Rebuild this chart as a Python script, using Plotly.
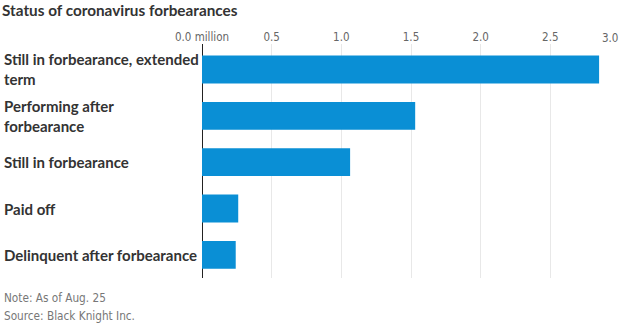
import plotly.graph_objects as go

categories = [
    "Still in forbearance, extended<br>term",
    "Performing after<br>forbearance",
    "Still in forbearance",
    "Paid off",
    "Delinquent after forbearance",
]
values = [2.85, 1.53, 1.063, 0.26, 0.242]  # millions
tick_vals = [0, 0.5, 1.0, 1.5, 2.0, 2.5]
tick_text = ["0.0 million", "0.5", "1.0", "1.5", "2.0", "2.5"]
last_tick = 3.0
last_tick_text = "3.0"

title = "Status of coronavirus forbearances"
note_lines = ["Note: As of Aug. 25", "Source: Black Knight Inc."]

bar_color = "#0a8fd5"
label_font = "Lato"
narrow_font = "DejaVu Sans Condensed, sans-serif"

fig = go.Figure()
fig.add_trace(go.Bar(
    x=values, y=list(range(len(categories))), orientation="h",
    marker=dict(color=bar_color, line=dict(width=0)),
    width=0.6, hoverinfo="skip",
))

annotations = []
for i, c in enumerate(categories):
    annotations.append(dict(
        x=0, xref="paper", xshift=-200, y=i, yref="y",
        text=c, showarrow=False, xanchor="left", yanchor="middle", align="left",
        font=dict(family=label_font, size=15, color="#333333", weight="bold"),
    ))
annotations.append(dict(
    x=last_tick, xref="x", y=1, yref="paper", yshift=-3,
    text=last_tick_text, showarrow=False, xanchor="right", yanchor="bottom",
    font=dict(family=narrow_font, size=11.5, color="#666666"),
))
for k, line in enumerate(note_lines):
    annotations.append(dict(
        x=0, xref="paper", xshift=-200, y=0, yref="paper", yshift=-20 - 18 * k,
        text=line, showarrow=False, xanchor="left", yanchor="middle", align="left",
        font=dict(family=narrow_font, size=11.7, color="#777777"),
    ))

fig.update_layout(
    width=620, height=325,
    margin=dict(l=202, r=0, t=44, b=47),
    paper_bgcolor="white", plot_bgcolor="white",
    showlegend=False,
    title=dict(text=title, x=2 / 620, xref="container", xanchor="left",
               y=0.985, yref="container", yanchor="top",
               font=dict(family=label_font, size=15.3, color="#333333", weight="bold")),
    xaxis=dict(
        side="top", range=[0, last_tick],
        tickvals=tick_vals + [last_tick], ticktext=tick_text + [""],
        showgrid=True, gridcolor="#e8e8e8", gridwidth=1,
        zeroline=True, zerolinecolor="#222222", zerolinewidth=1,
        ticks="", tickfont=dict(family=narrow_font, size=11.5, color="#666666"),
        showline=False, fixedrange=True,
    ),
    yaxis=dict(
        range=[4.5, -0.55], showticklabels=False, showgrid=False,
        zeroline=False, showline=False, fixedrange=True,
    ),
    annotations=annotations,
    bargap=0.4,
)

fig.write_html("out.html")
